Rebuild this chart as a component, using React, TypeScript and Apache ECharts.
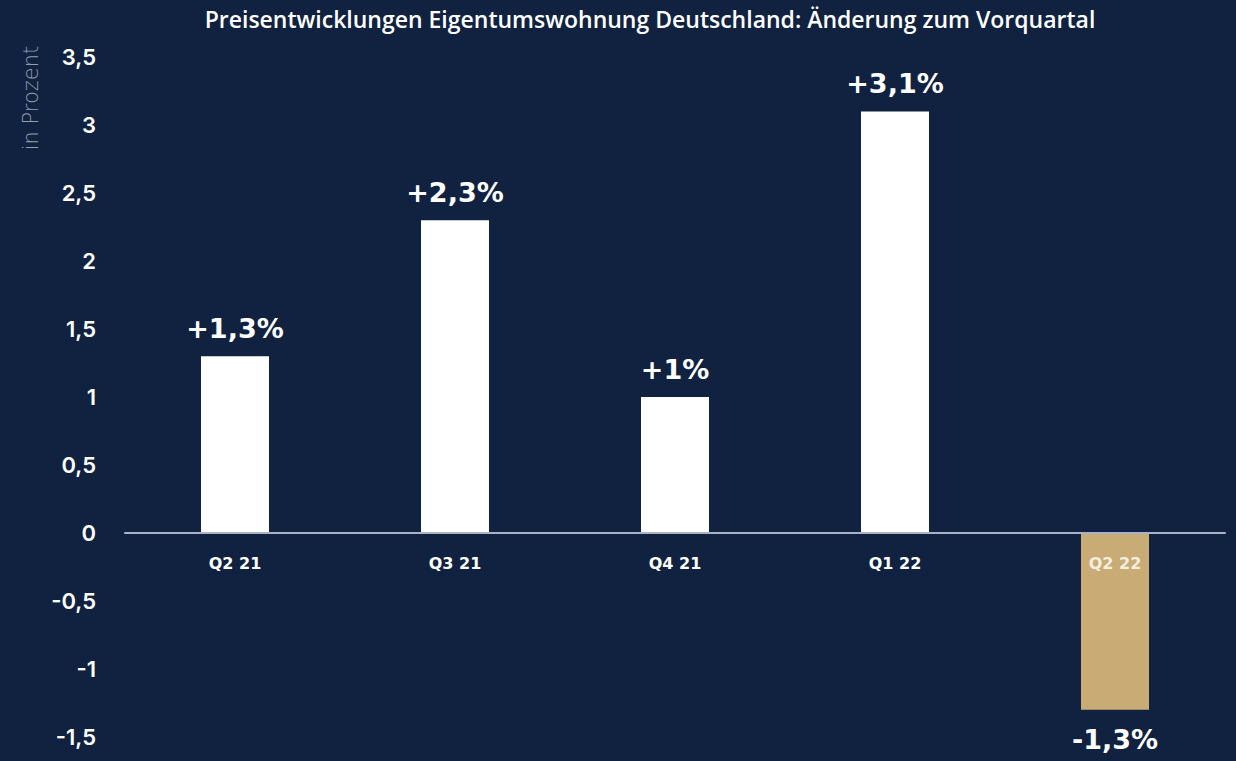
import React, { useEffect, useRef } from "react";
import * as echarts from "echarts";

const title = "Preisentwicklungen Eigentumswohnung Deutschland: Änderung zum Vorquartal";
const yAxisName = "in Prozent";
const categories = ["Q2 21", "Q3 21", "Q4 21", "Q1 22", "Q2 22"];
const values = [1.3, 2.3, 1.0, 3.1, -1.3];
const valueLabels = ["+1,3%", "+2,3%", "+1%", "+3,1%", "-1,3%"];
const barColors = ["#ffffff", "#ffffff", "#ffffff", "#ffffff", "#c9ab76"];

const BG = "#10223f";
const FONT = "Inter, 'Noto Sans', sans-serif";
const WIDE = "'DejaVu Sans', sans-serif";

const GRID_TOP = 57;
const GRID_BOTTOM = 24;
const Y_MIN = -1.5;
const Y_MAX = 3.5;

export default function App() {
  const ref = useRef<HTMLDivElement>(null);
  useEffect(() => {
    document.body.style.margin = "0";
    const chart = echarts.init(ref.current!, null, { renderer: "svg" });
    const plotH = 761 - GRID_TOP - GRID_BOTTOM;
    const zeroOffset = -(plotH * (0 - Y_MIN)) / (Y_MAX - Y_MIN);
    chart.setOption({
      animation: false,
      backgroundColor: BG,
      title: {
        text: title,
        left: 645,
        textAlign: "center",
        top: 2,
        textStyle: { color: "#ffffff", fontSize: 23, fontWeight: 600, fontFamily: "'Open Sans', sans-serif" },
      },
      graphic: [
        {
          type: "text",
          x: 31,
          y: 98,
          rotation: Math.PI / 2,
          style: {
            text: yAxisName,
            fill: "#939eb0",
            fontSize: 21,
            fontFamily: WIDE,
            fontWeight: 200,
            align: "center",
            verticalAlign: "middle",
          },
        },
      ],
      grid: { left: 125, right: 11, top: GRID_TOP, bottom: GRID_BOTTOM, containLabel: false, outerBoundsMode: "none" },
      xAxis: {
        type: "category",
        data: categories,
        z: 5,
        offset: zeroOffset,
        axisLine: { onZero: false, lineStyle: { color: "#aab3c5", width: 2 } },
        axisTick: { show: false },
        splitLine: { show: false },
        axisLabel: {
          margin: 22,
          fontSize: 16,
          fontWeight: "bold",
          fontFamily: WIDE,
          color: (_v: any, i: number) => (i === 4 ? "#f4eedf" : "#ffffff"),
        },
      },
      yAxis: {
        type: "value",
        min: Y_MIN,
        max: Y_MAX,
        interval: 0.5,
        axisLine: { show: false },
        axisTick: { show: false },
        splitLine: { show: false },
        axisLabel: {
          margin: 29,
          fontSize: 22,
          fontWeight: 600,
          fontFamily: FONT,
          color: "#ffffff",
          formatter: (v: number) => String(v).replace(".", ","),
        },
      },
      series: [
        {
          type: "bar",
          barWidth: 68,
          data: values.map((v, i) => ({
            value: v,
            itemStyle: { color: barColors[i] },
            label: {
              show: true,
              position: v >= 0 ? "top" : "bottom",
              distance: v >= 0 ? 14 : 16,
              formatter: valueLabels[i],
              color: "#ffffff",
              fontSize: 27,
              fontWeight: "bold",
              fontFamily: WIDE,
            },
          })),
        },
      ],
    });
    return () => chart.dispose();
  }, []);
  return <div ref={ref} style={{ width: 1236, height: 761 }} />;
}
